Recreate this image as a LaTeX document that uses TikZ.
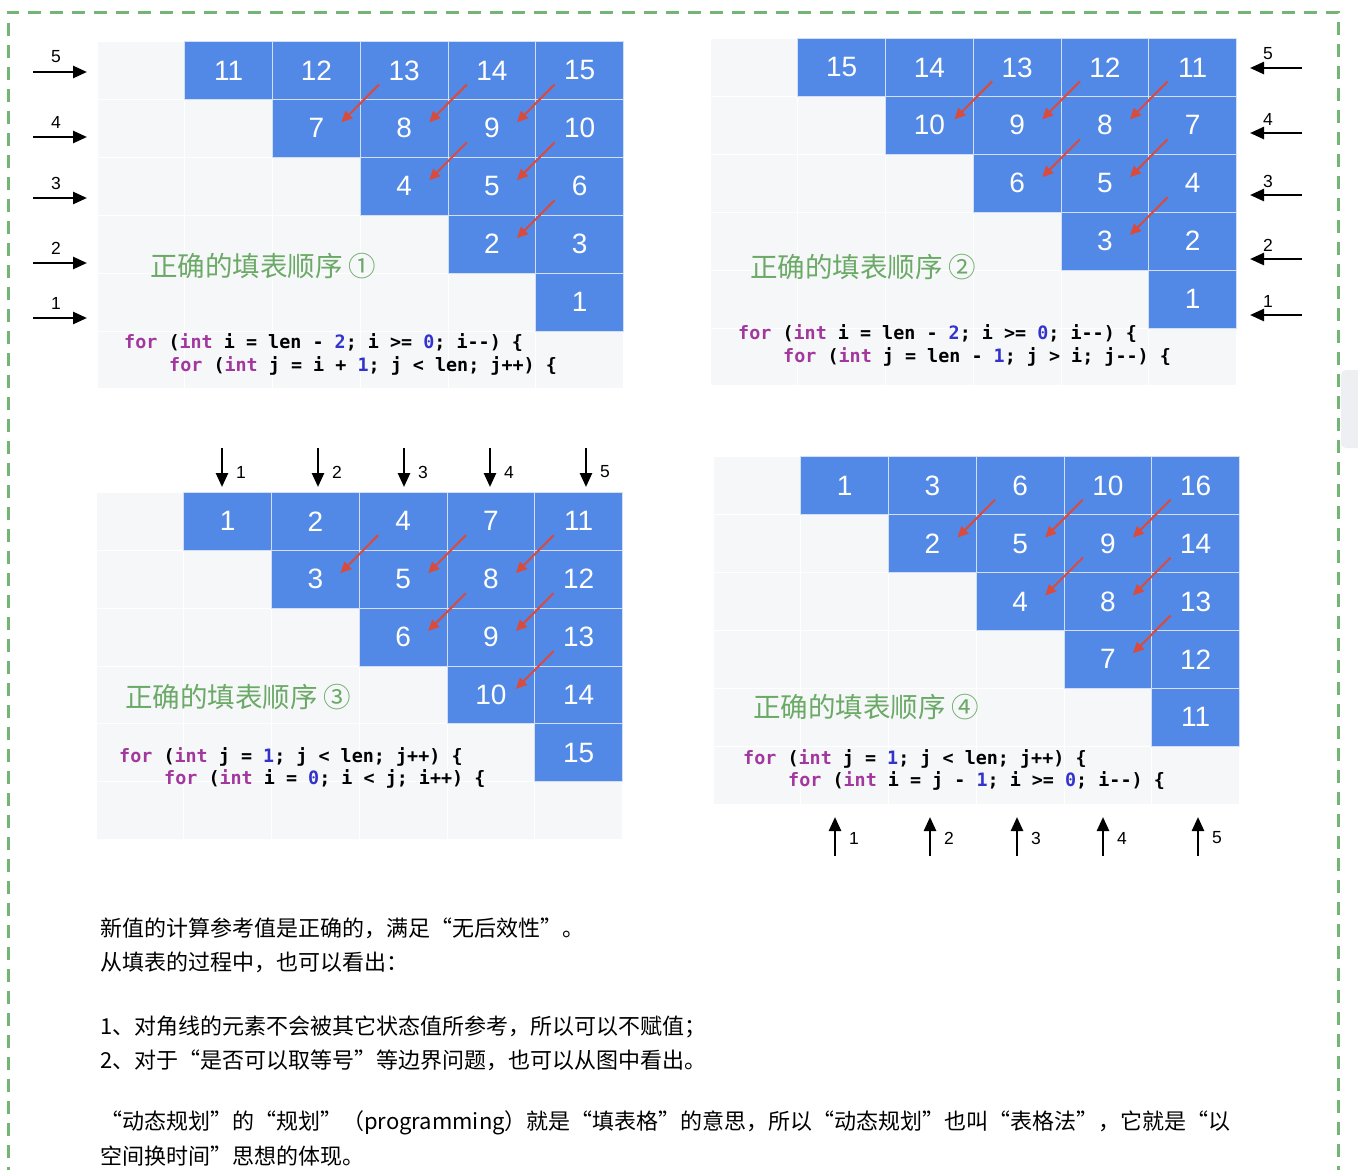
\documentclass[tikz,border=0pt]{standalone}
\usepackage{fontspec}
\setmainfont{Liberation Sans}
\newfontfamily\cjk{Noto Sans CJK SC}
\newfontfamily\codefont{DejaVu Sans Mono}
\usetikzlibrary{arrows.meta}
\definecolor{cellblue}{HTML}{5289E6}
\definecolor{cellgrey}{HTML}{F6F7F9}
\definecolor{celledge}{HTML}{D3DFF6}
\definecolor{redarrow}{HTML}{D94B3D}
\definecolor{titlegreen}{HTML}{6BAA66}
\definecolor{bordergreen}{HTML}{74B475}
\definecolor{kwpurple}{HTML}{A2389E}
\definecolor{numblue}{HTML}{3232CC}
\definecolor{uigrey}{HTML}{EEEFF2}
\def\dpw{87.75}
\def\dph{57.9}
\newcommand\kw[1]{\textcolor{kwpurple}{#1}}
\newcommand\nm[1]{\textcolor{numblue}{#1}}
\tikzset{
  greycell/.style={fill=cellgrey, draw=white, line width=1pt},
  bluecell/.style={fill=cellblue, draw=celledge, line width=1pt, minimum width=\dpw pt, minimum height=\dph pt, inner sep=0pt, outer sep=0pt, text=white, font=\fontsize{28}{28}\selectfont},
  redarr/.style={draw=redarrow, line width=2pt, -{Triangle[length=11pt,width=10pt]}},
  blkarr/.style={draw=black, line width=2.5pt, -{Triangle[length=14pt,width=12pt]}},
  arrlabel/.style={inner sep=0pt, font=\fontsize{17.5}{17.5}\selectfont},
  titletext/.style={anchor=west, inner sep=0pt, text=titlegreen, font=\cjk\fontsize{27.5}{27.5}\selectfont},
  codetext/.style={anchor=west, inner sep=0pt, font=\codefont\bfseries\fontsize{18.4}{18.4}\selectfont},
  bodytext/.style={anchor=west, inner sep=0pt, font=\cjk\fontsize{22}{22}\selectfont},
}
\newcommand\dppanel[4]{%
  \begin{scope}[shift={(#2,#3)}]
    \foreach \r in {0,...,5}{\foreach \c in {0,...,5}{%
      \draw[greycell] ({\c*\dpw},{\r*\dph}) rectangle ++(\dpw,\dph);}}
    \foreach \r/\c/\n in {#4}{%
      \node[bluecell] (#1-\r-\c) at ({(\c+0.5)*\dpw},{(\r+0.5)*\dph}) {\n};}
  \end{scope}
  \foreach \r/\c in {0/3,0/4,0/5,1/4,1/5,2/5}{%
    \pgfmathtruncatemacro\rr{\r+1}\pgfmathtruncatemacro\cc{\c-1}%
    \draw[redarr] ([shift={(-25,14)}]#1-\r-\c.center) -- ([shift={(25,-6)}]#1-\rr-\cc.center);}
}
\begin{document}
\begin{tikzpicture}[x=1pt,y=-1pt]
\useasboundingbox (0,0) rectangle (1358,1170);
\fill[white] (0,0) rectangle (1358,1170);
% UI fragment at right edge
\fill[uigrey, rounded corners=5pt] (1341,370) rectangle (1375,448);
% dashed frame
\draw[bordergreen, line width=3pt, dash pattern=on 13pt off 9pt] (8,1180) -- (8,12) -- (1338,12) -- (1338,1180);

% ---------- panel 1 ----------
\dppanel{pa}{97}{41.5}{0/1/11,0/2/12,0/3/13,0/4/14,0/5/15,1/2/7,1/3/8,1/4/9,1/5/10,2/3/4,2/4/5,2/5/6,3/4/2,3/5/3,4/5/1}
\node[titletext] (ta) at (150,266) {正确的填表顺序 ①};
\node[codetext] (ca1) at (124,343) {\kw{for} (\kw{int} i = len - \nm{2}; i >= \nm{0}; i-{}-) \{};
\node[codetext] (ca2) at (169,366) {\kw{for} (\kw{int} j = i + \nm{1}; j < len; j++) \{};
\foreach \y/\t [count=\k] in {72/5,137/4,198/3,263/2,318/1}{%
  \coordinate (la\k s) at (33,\y); \coordinate (la\k e) at (87,\y);
  \draw[blkarr] (la\k s) -- (la\k e);
  \node[arrlabel] (la\k t) at (56,\y-15) {\t};}

% ---------- panel 2 ----------
\dppanel{pb}{710}{38.5}{0/1/15,0/2/14,0/3/13,0/4/12,0/5/11,1/2/10,1/3/9,1/4/8,1/5/7,2/3/6,2/4/5,2/5/4,3/4/3,3/5/2,4/5/1}
\node[titletext] (tb) at (750,267) {正确的填表顺序 ②};
\node[codetext] (cb1) at (738,334) {\kw{for} (\kw{int} i = len - \nm{2}; i >= \nm{0}; i-{}-) \{};
\node[codetext] (cb2) at (783,357) {\kw{for} (\kw{int} j = len - \nm{1}; j > i; j-{}-) \{};
\foreach \y/\t [count=\k] in {68/5,133/4,195/3,259/2,315/1}{%
  \coordinate (lb\k s) at (1302,\y); \coordinate (lb\k e) at (1250,\y);
  \draw[blkarr] (lb\k s) -- (lb\k e);
  \node[arrlabel] (lb\k t) at (1268,\y-14) {\t};}

% ---------- panel 3 ----------
\dppanel{pc}{96}{492.3}{0/1/1,0/2/2,0/3/4,0/4/7,0/5/11,1/2/3,1/3/5,1/4/8,1/5/12,2/3/6,2/4/9,2/5/13,3/4/10,3/5/14,4/5/15}
\node[titletext] (tc) at (125,697) {正确的填表顺序 ③};
\node[codetext] (cc1) at (119,757) {\kw{for} (\kw{int} j = \nm{1}; j < len; j++) \{};
\node[codetext] (cc2) at (164,779) {\kw{for} (\kw{int} i = \nm{0}; i < j; i++) \{};
\foreach \x/\t in {222/1,318/2,404/3,490/4,586/5}{%
  \coordinate (lc\t s) at (\x,448); \coordinate (lc\t e) at (\x,487);
  \draw[blkarr] (lc\t s) -- (lc\t e);
  \node[arrlabel] (lc\t t) at (\x+19,472) {\t};}

% ---------- panel 4 ----------
\dppanel{pd}{713}{456.7}{0/1/1,0/2/3,0/3/6,0/4/10,0/5/16,1/2/2,1/3/5,1/4/9,1/5/14,2/3/4,2/4/8,2/5/13,3/4/7,3/5/12,4/5/11}
\node[titletext] (td) at (753,707) {正确的填表顺序 ④};
\node[codetext] (cd1) at (743,759) {\kw{for} (\kw{int} j = \nm{1}; j < len; j++) \{};
\node[codetext] (cd2) at (788,781) {\kw{for} (\kw{int} i = j - \nm{1}; i >= \nm{0}; i-{}-) \{};
\foreach \x/\t in {835/1,930/2,1017/3,1103/4,1198/5}{%
  \coordinate (ld\t s) at (\x,856); \coordinate (ld\t e) at (\x,817);
  \draw[blkarr] (ld\t s) -- (ld\t e);
  \node[arrlabel] (ld\t t) at (\x+19,838) {\t};}

% ---------- explanation text ----------
\node[bodytext] (b1) at (100,928) {新值的计算参考值是正确的，满足“无后效性”。};
\node[bodytext] (b2) at (100,962) {从填表的过程中，也可以看出：};
\node[bodytext] (b3) at (100,1027) {1、对角线的元素不会被其它状态值所参考，所以可以不赋值；};
\node[bodytext] (b4) at (100,1060) {2、对于“是否可以取等号”等边界问题，也可以从图中看出。};
\node[bodytext] (b5) at (100,1123) {“动态规划”的“规划”（programming）就是“填表格”的意思，所以“动态规划”也叫“表格法”，它就是“以};
\node[bodytext] (b6) at (100,1156) {空间换时间”思想的体现。};
\end{tikzpicture}
\end{document}
